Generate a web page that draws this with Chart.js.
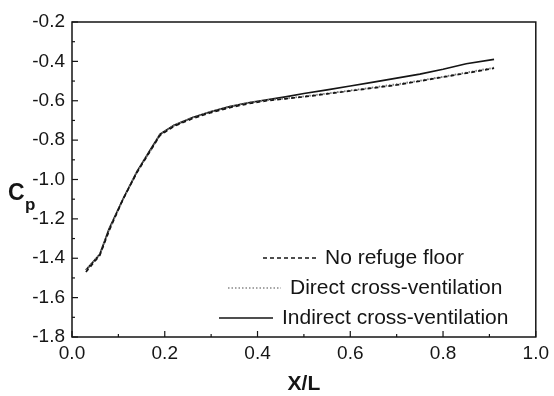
<!DOCTYPE html>
<html>
<head>
<meta charset="utf-8">
<script src="https://cdn.jsdelivr.net/npm/chart.js@4.4.1/dist/chart.umd.min.js"></script>
<style>
    html, body { margin: 0; padding: 0; background: #fff; }
    #wrap { width: 554px; height: 396px; position: relative; }
</style>
</head>
<body>
<div id="wrap"><canvas id="cpChart"></canvas></div>
<script>
// ============================================================
//  DATA
// ============================================================

const xPositions = [0.03, 0.06, 0.08, 0.11, 0.14, 0.17, 0.19, 0.22, 0.26, 0.30, 0.34, 0.38, 0.42, 0.46,
    0.50, 0.55, 0.60, 0.65, 0.70, 0.75, 0.80, 0.85, 0.91];

const noRefugeFloor = [-1.47, -1.385, -1.26, -1.10, -0.965, -0.85, -0.775, -0.73, -0.69, -0.66, -0.635, -0.615,
    -0.60, -0.59, -0.58, -0.565, -0.55, -0.535, -0.52, -0.50, -0.48, -0.46, -0.435];

const directCross = [-1.46, -1.38, -1.255, -1.10, -0.96, -0.85, -0.77, -0.725, -0.685, -0.655, -0.63, -0.61,
    -0.597, -0.588, -0.578, -0.563, -0.548, -0.532, -0.516, -0.498, -0.478, -0.457, -0.432];

const indirectCross = [-1.46, -1.38, -1.25, -1.10, -0.96, -0.845, -0.77, -0.725, -0.685, -0.655, -0.63, -0.61,
    -0.595, -0.58, -0.563, -0.545, -0.525, -0.505, -0.485, -0.465, -0.44, -0.412, -0.39];

const seriesLabels = ["No refuge floor", "Direct cross-ventilation", "Indirect cross-ventilation"];
const xTicks = [0.0, 0.2, 0.4, 0.6, 0.8, 1.0];
const yTicks = [-0.2, -0.4, -0.6, -0.8, -1.0, -1.2, -1.4, -1.6, -1.8];

const INK = "#151515";
const FONT = "'Liberation Sans', Arial, sans-serif";

const toPoints = ys => ys.map((y, i) => ({ x: xPositions[i], y }));

// ============================================================
//  PLUGINS: frame, inward ticks, axis titles, legend
// ============================================================

const framePlugin = {
    id: "frame",
    afterDraw(chart) {
        const { ctx, chartArea: a, scales } = chart;
        ctx.save();
        ctx.strokeStyle = INK;
        ctx.lineWidth = 1.5;
        ctx.strokeRect(a.left, a.top, a.right - a.left, a.bottom - a.top);

        // inward ticks, major every 0.2 and minor every 0.1
        ctx.lineWidth = 1.2;
        for (let i = 0; i <= 10; i++) {
            const px = scales.x.getPixelForValue(i / 10);
            const len = i % 2 === 0 ? 6 : 3;
            ctx.beginPath();
            ctx.moveTo(px, a.bottom);
            ctx.lineTo(px, a.bottom - len);
            ctx.stroke();
        }
        for (let i = 2; i <= 18; i++) {
            const py = scales.y.getPixelForValue(-i / 10);
            const len = i % 2 === 0 ? 6 : 3;
            ctx.beginPath();
            ctx.moveTo(a.left, py);
            ctx.lineTo(a.left + len, py);
            ctx.stroke();
        }

        // axis titles
        ctx.fillStyle = INK;
        ctx.font = "bold 21px " + FONT;
        ctx.textAlign = "center";
        ctx.textBaseline = "middle";
        ctx.fillText("X/L", (a.left + a.right) / 2, 384);

        ctx.textAlign = "left";
        ctx.font = "bold 23px " + FONT;
        ctx.fillText("C", 8, 194);
        ctx.font = "bold 17px " + FONT;
        ctx.fillText("p", 25, 205);

        // legend in the lower right of the plot
        const rows = [
            { y: 258, x0: 263, x1: 316, dash: [4, 3], color: INK, width: 1.3 },
            { y: 288, x0: 228, x1: 281, dash: [1.5, 2], color: "#888", width: 1.5 },
            { y: 318, x0: 219, x1: 273, dash: [], color: INK, width: 1.3 }
        ];
        ctx.font = "21px " + FONT;
        rows.forEach((r, i) => {
            ctx.beginPath();
            ctx.setLineDash(r.dash);
            ctx.strokeStyle = r.color;
            ctx.lineWidth = r.width;
            ctx.moveTo(r.x0, r.y);
            ctx.lineTo(r.x1, r.y);
            ctx.stroke();
            ctx.setLineDash([]);
            ctx.fillStyle = INK;
            ctx.fillText(seriesLabels[i], r.x1 + 9, r.y);
        });
        ctx.restore();
    }
};

// ============================================================
//  CHART
// ============================================================

const ctx = document.getElementById("cpChart");

new Chart(ctx, {
    type: "line",
    data: {
        datasets: [
            {
                label: seriesLabels[0],
                data: toPoints(noRefugeFloor),
                borderColor: INK,
                borderWidth: 1.7,
                borderDash: [4, 3]
            },
            {
                label: seriesLabels[1],
                data: toPoints(directCross),
                borderColor: "#777",
                borderWidth: 1.8,
                borderDash: [1.5, 2]
            },
            {
                label: seriesLabels[2],
                data: toPoints(indirectCross),
                borderColor: INK,
                borderWidth: 1.7
            }
        ]
    },
    options: {
        responsive: true,
        maintainAspectRatio: false,
        animation: false,
        elements: { point: { radius: 0 }, line: { tension: 0 } },
        layout: { padding: { left: 0, right: 14, top: 22, bottom: 0 } },
        plugins: {
            legend: { display: false },
            tooltip: { enabled: false }
        },
        scales: {
            x: {
                type: "linear",
                min: 0,
                max: 1,
                afterFit: s => { s.height = 59; },
                afterBuildTicks: s => { s.ticks = xTicks.map(v => ({ value: v })); },
                grid: { display: false, drawTicks: false },
                border: { display: false },
                ticks: {
                    color: INK,
                    padding: 5,
                    maxRotation: 0,
                    font: { family: FONT, size: 19 },
                    callback: v => v.toFixed(1)
                }
            },
            y: {
                type: "linear",
                min: -1.8,
                max: -0.2,
                afterFit: s => { s.width = 72; },
                afterBuildTicks: s => { s.ticks = yTicks.map(v => ({ value: v })); },
                grid: { display: false, drawTicks: false },
                border: { display: false },
                ticks: {
                    color: INK,
                    padding: 7,
                    font: { family: FONT, size: 19 },
                    callback: v => v.toFixed(1)
                }
            }
        }
    },
    plugins: [framePlugin]
});
</script>
</body>
</html>
